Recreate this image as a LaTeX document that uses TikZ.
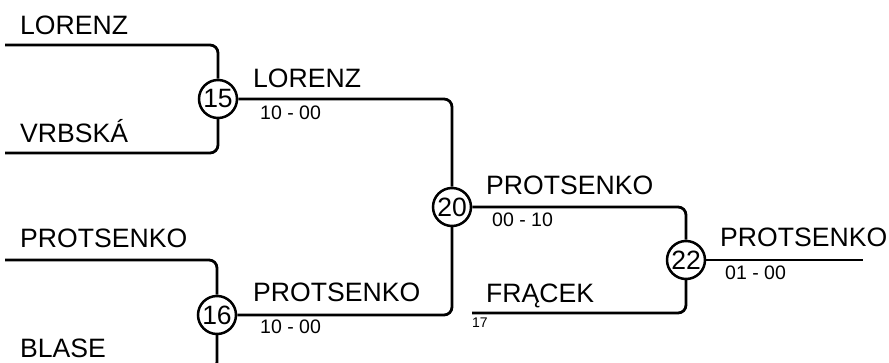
\documentclass[tikz,border=0pt]{standalone}
\usepackage{fontspec}
\setmainfont{Liberation Sans}
\begin{document}
\begin{tikzpicture}[x=1pt,y=-1pt,
  ln/.style={line width=2.8pt,rounded corners=8pt},
  mcircle/.style={circle,draw,line width=2.5pt,minimum size=38pt,inner sep=0pt,font=\fontsize{26.5}{26.5}\selectfont},
  pname/.style={anchor=base west,inner sep=0pt,font=\fontsize{26.6}{26.6}\selectfont},
  pscore/.style={anchor=base west,inner sep=0pt,font=\fontsize{19.5}{19.5}\selectfont},
  psmall/.style={anchor=base west,inner sep=0pt,font=\fontsize{14}{14}\selectfont}]
\clip (0,0) rectangle (889,363);
\node[mcircle] (m15) at (218,99) {15};
\node[mcircle] (m16) at (217,315) {16};
\node[mcircle] (m20) at (452,207) {20};
\node[mcircle] (m22) at (686,260) {22};
\coordinate (a1) at (5,45);
\coordinate (a2) at (5,153);
\coordinate (a3) at (5,260);
\coordinate (a4) at (5,370);
\coordinate (f17) at (472,313);
\coordinate (fin) at (863,260);
\draw[ln] (a1) -| (m15);
\draw[ln] (a2) -| (m15);
\draw[ln] (a3) -| (m16);
\draw[ln] (a4) -| (m16);
\draw[ln] (m15) -| (m20);
\draw[ln] (m16) -| (m20);
\draw[ln] (m20) -| (m22);
\draw[ln] (f17) -| (m22);
\draw[ln] (m22) -- (fin);
\node[pname] (t1) at (20,35) {LORENZ};
\node[pname] (t2) at (20,143) {VRBSKÁ};
\node[pname] (t3) at (20,248) {PROTSENKO};
\node[pname] (t4) at (20,357) {BLASE};
\node[pname] (w15) at (253,88) {LORENZ};
\node[pscore] (s15) at (260,120) {10 - 00};
\node[pname] (w16) at (253,302) {PROTSENKO};
\node[pscore] (s16) at (260,334) {10 - 00};
\node[pname] (w20) at (486,195) {PROTSENKO};
\node[pscore] (s20) at (492,227) {00 - 10};
\node[pname] (t5) at (486,303) {FRĄCEK};
\node[psmall] (n17) at (472,328) {17};
\node[pname] (w22) at (720,247) {PROTSENKO};
\node[pscore] (s22) at (725,280) {01 - 00};
\end{tikzpicture}
\end{document}
